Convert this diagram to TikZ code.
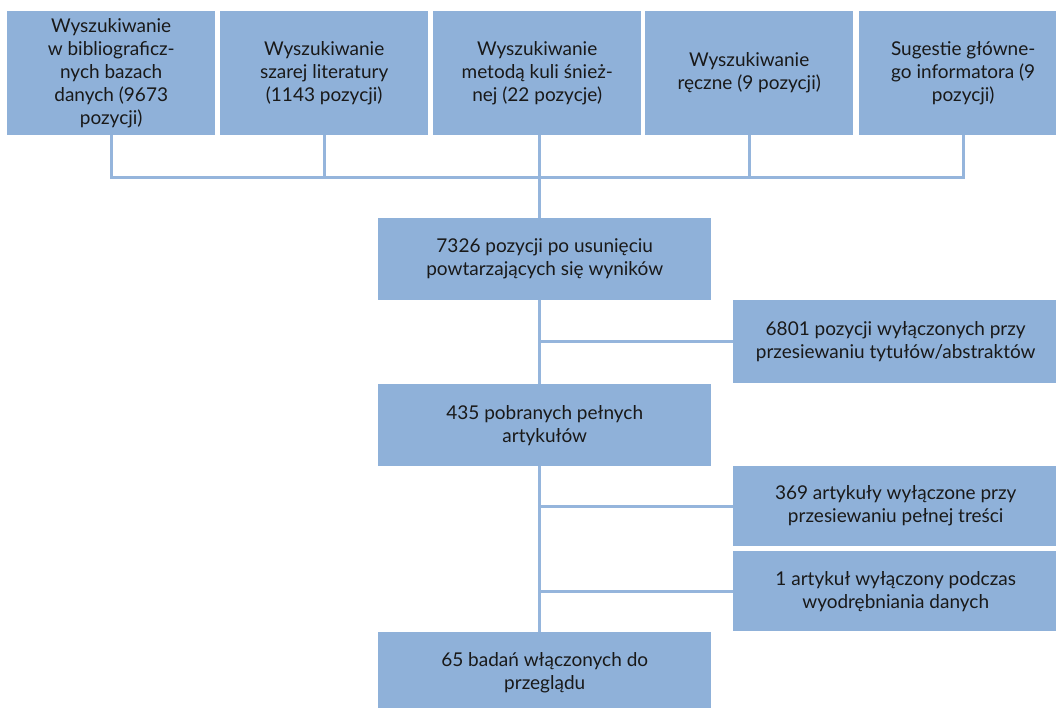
\documentclass[tikz,border=0pt]{standalone}
\usepackage{fontspec}
\setmainfont{Lato}
\usepackage{xcolor}
\usetikzlibrary{positioning, calc, backgrounds}
\definecolor{boxblue}{RGB}{143,177,217}
\definecolor{lineblue}{RGB}{149,181,220}
\definecolor{textdark}{RGB}{25,25,25}
\pgfdeclarelayer{paper}
\pgfsetlayers{paper,background,main}

\tikzset{
    stagebox/.style={rectangle, fill=boxblue, anchor=north west, align=center,
        inner sep=0pt, text=textdark, font=\fontsize{19}{23}\selectfont},
    topbox/.style={stagebox, minimum width=208pt, minimum height=124pt},
    mainbox/.style={stagebox, minimum width=333pt, minimum height=82pt},
    sidebox/.style={stagebox, minimum width=325pt, minimum height=81pt},
    flowline/.style={draw=lineblue, line width=2.6pt}
}

\begin{document}
\begin{tikzpicture}[x=1pt, y=-1pt]

    % --- Page frame ---
    \clip (0,0) rectangle (1056,707);
    \begin{pgfonlayer}{paper}
        \fill[white] (0,0) rectangle (1056,707);
    \end{pgfonlayer}

    % --- Search sources (top row) ---
    \node[topbox] (s1) at (7,11)   {Wyszukiwanie\\ w bibliograficz-\\ nych bazach\\ danych (9673\\ pozycji)};
    \node[topbox] (s2) at (220,11) {Wyszukiwanie\\ szarej literatury\\ (1143 pozycji)};
    \node[topbox] (s3) at (433,11) {Wyszukiwanie\\ metodą kuli śnież-\\ nej (22 pozycje)};
    \node[topbox] (s4) at (645,11) {Wyszukiwanie\\ ręczne (9 pozycji)};
    \node[topbox] (s5) at (859,11) {Sugestie główne-\\ go informatora (9\\ pozycji)};

    % --- Main column ---
    \node[mainbox] (dedup) at (378,218) {7326 pozycji po usunięciu\\ powtarzających się wyników};
    \node[mainbox] (full)  at (378,384) {435 pobranych pełnych\\ artykułów};
    \node[mainbox] (incl)  at (378,632) {65 badań włączonych do\\ przeglądu};

    % --- Exclusions (right column) ---
    \node[sidebox, minimum height=83pt] (exA) at (733,300) {6801 pozycji wyłączonych przy\\ przesiewaniu tytułów/abstraktów};
    \node[sidebox, minimum height=80pt] (exB) at (733,466) {369 artykuły wyłączone przy\\ przesiewaniu pełnej treści};
    \node[sidebox, minimum height=80pt] (exC) at (733,551) {1 artykuł wyłączony podczas\\ wyodrębniania danych};

    % --- Connectors (behind the boxes) ---
    \coordinate (hub) at ($(s3.south)+(2,42)$);
    \begin{scope}[on background layer]
        \draw[flowline] (s1.south) -- (s1.south |- hub) -- (s5.south |- hub) -- (s5.south);
        \draw[flowline] (s2.south) -- (s2.south |- hub);
        \draw[flowline] (s4.south) -- (s4.south |- hub);
        \draw[flowline] (s3.south -| hub) -- (incl.north -| hub);
        \draw[flowline] (exA.west) -- (exA.west -| hub);
        \draw[flowline] (exB.west) -- (exB.west -| hub);
        \draw[flowline] (exC.west) -- (exC.west -| hub);
    \end{scope}

\end{tikzpicture}
\end{document}
